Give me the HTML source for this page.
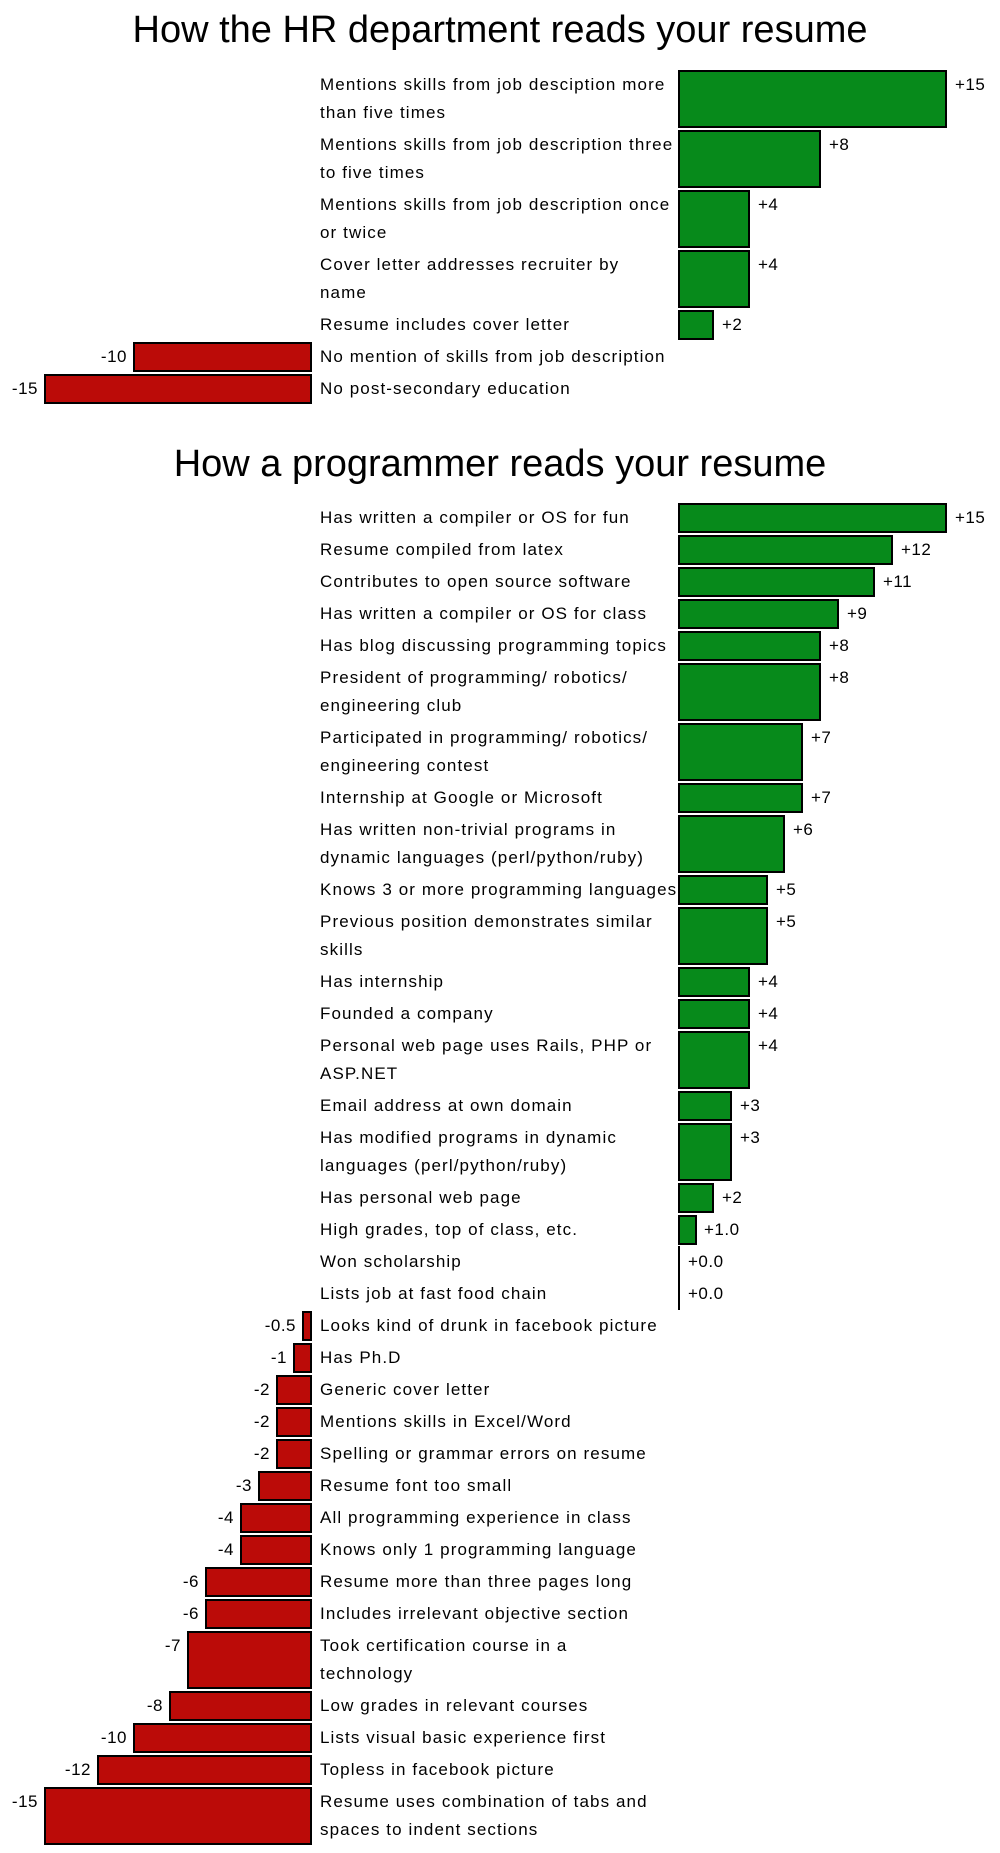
<!DOCTYPE html>
<html><head><meta charset="utf-8"><style>
body{margin:0;width:1000px;height:1853px;background:#fff;font-family:"Liberation Sans",sans-serif;color:#000;overflow:hidden;position:relative}
.t{position:absolute;left:0;width:1000px;text-align:center;font-size:38px;line-height:44px;letter-spacing:0px}
.sec{position:absolute;left:0;width:1000px}
.r{position:relative;height:32px;font-size:17px;letter-spacing:1.1px}
.d{height:60px}
.l{position:absolute;left:320px;top:2px;line-height:28px;white-space:nowrap}
.p,.n{position:absolute;top:1px;bottom:1px;border:2px solid #000;box-sizing:border-box}
.p{left:678px;background:#078a1b}
.n{right:688px;background:#bb0b08}
.v{position:absolute;top:2px;line-height:28px;white-space:nowrap;letter-spacing:0.5px}
.z{position:absolute;left:678px;top:0;bottom:0;width:2px;background:#000}
</style></head><body>
<div class="t" style="top:8px">How the HR department reads your resume</div>
<div class="sec" style="top:69px">
<div class="r d"><div class="l">Mentions skills from job desciption more<br>than five times</div><div class="p" style="width:269px"></div><div class="v" style="left:955px">+15</div></div>
<div class="r d"><div class="l">Mentions skills from job description three<br>to five times</div><div class="p" style="width:143px"></div><div class="v" style="left:829px">+8</div></div>
<div class="r d"><div class="l">Mentions skills from job description once<br>or twice</div><div class="p" style="width:72px"></div><div class="v" style="left:758px">+4</div></div>
<div class="r d"><div class="l">Cover letter addresses recruiter by<br>name</div><div class="p" style="width:72px"></div><div class="v" style="left:758px">+4</div></div>
<div class="r"><div class="l">Resume includes cover letter</div><div class="p" style="width:36px"></div><div class="v" style="left:722px">+2</div></div>
<div class="r"><div class="l">No mention of skills from job description</div><div class="n" style="width:179px"></div><div class="v" style="right:873px">-10</div></div>
<div class="r"><div class="l">No post-secondary education</div><div class="n" style="width:268px"></div><div class="v" style="right:962px">-15</div></div>
</div>
<div class="t" style="top:442px">How a programmer reads your resume</div>
<div class="sec" style="top:502px">
<div class="r"><div class="l">Has written a compiler or OS for fun</div><div class="p" style="width:269px"></div><div class="v" style="left:955px">+15</div></div>
<div class="r"><div class="l">Resume compiled from latex</div><div class="p" style="width:215px"></div><div class="v" style="left:901px">+12</div></div>
<div class="r"><div class="l">Contributes to open source software</div><div class="p" style="width:197px"></div><div class="v" style="left:883px">+11</div></div>
<div class="r"><div class="l">Has written a compiler or OS for class</div><div class="p" style="width:161px"></div><div class="v" style="left:847px">+9</div></div>
<div class="r"><div class="l">Has blog discussing programming topics</div><div class="p" style="width:143px"></div><div class="v" style="left:829px">+8</div></div>
<div class="r d"><div class="l">President of programming/ robotics/<br>engineering club</div><div class="p" style="width:143px"></div><div class="v" style="left:829px">+8</div></div>
<div class="r d"><div class="l">Participated in programming/ robotics/<br>engineering contest</div><div class="p" style="width:125px"></div><div class="v" style="left:811px">+7</div></div>
<div class="r"><div class="l">Internship at Google or Microsoft</div><div class="p" style="width:125px"></div><div class="v" style="left:811px">+7</div></div>
<div class="r d"><div class="l">Has written non-trivial programs in<br>dynamic languages (perl/python/ruby)</div><div class="p" style="width:107px"></div><div class="v" style="left:793px">+6</div></div>
<div class="r"><div class="l">Knows 3 or more programming languages</div><div class="p" style="width:90px"></div><div class="v" style="left:776px">+5</div></div>
<div class="r d"><div class="l">Previous position demonstrates similar<br>skills</div><div class="p" style="width:90px"></div><div class="v" style="left:776px">+5</div></div>
<div class="r"><div class="l">Has internship</div><div class="p" style="width:72px"></div><div class="v" style="left:758px">+4</div></div>
<div class="r"><div class="l">Founded a company</div><div class="p" style="width:72px"></div><div class="v" style="left:758px">+4</div></div>
<div class="r d"><div class="l">Personal web page uses Rails, PHP or<br>ASP.NET</div><div class="p" style="width:72px"></div><div class="v" style="left:758px">+4</div></div>
<div class="r"><div class="l">Email address at own domain</div><div class="p" style="width:54px"></div><div class="v" style="left:740px">+3</div></div>
<div class="r d"><div class="l">Has modified programs in dynamic<br>languages (perl/python/ruby)</div><div class="p" style="width:54px"></div><div class="v" style="left:740px">+3</div></div>
<div class="r"><div class="l">Has personal web page</div><div class="p" style="width:36px"></div><div class="v" style="left:722px">+2</div></div>
<div class="r"><div class="l">High grades, top of class, etc.</div><div class="p" style="width:19px"></div><div class="v" style="left:704px">+1.0</div></div>
<div class="r"><div class="l">Won scholarship</div><div class="z"></div><div class="v" style="left:688px">+0.0</div></div>
<div class="r"><div class="l">Lists job at fast food chain</div><div class="z"></div><div class="v" style="left:688px">+0.0</div></div>
<div class="r"><div class="l">Looks kind of drunk in facebook picture</div><div class="n" style="width:10px"></div><div class="v" style="right:704px">-0.5</div></div>
<div class="r"><div class="l">Has Ph.D</div><div class="n" style="width:19px"></div><div class="v" style="right:713px">-1</div></div>
<div class="r"><div class="l">Generic cover letter</div><div class="n" style="width:36px"></div><div class="v" style="right:730px">-2</div></div>
<div class="r"><div class="l">Mentions skills in Excel/Word</div><div class="n" style="width:36px"></div><div class="v" style="right:730px">-2</div></div>
<div class="r"><div class="l">Spelling or grammar errors on resume</div><div class="n" style="width:36px"></div><div class="v" style="right:730px">-2</div></div>
<div class="r"><div class="l">Resume font too small</div><div class="n" style="width:54px"></div><div class="v" style="right:748px">-3</div></div>
<div class="r"><div class="l">All programming experience in class</div><div class="n" style="width:72px"></div><div class="v" style="right:766px">-4</div></div>
<div class="r"><div class="l">Knows only 1 programming language</div><div class="n" style="width:72px"></div><div class="v" style="right:766px">-4</div></div>
<div class="r"><div class="l">Resume more than three pages long</div><div class="n" style="width:107px"></div><div class="v" style="right:801px">-6</div></div>
<div class="r"><div class="l">Includes irrelevant objective section</div><div class="n" style="width:107px"></div><div class="v" style="right:801px">-6</div></div>
<div class="r d"><div class="l">Took certification course in a<br>technology</div><div class="n" style="width:125px"></div><div class="v" style="right:819px">-7</div></div>
<div class="r"><div class="l">Low grades in relevant courses</div><div class="n" style="width:143px"></div><div class="v" style="right:837px">-8</div></div>
<div class="r"><div class="l">Lists visual basic experience first</div><div class="n" style="width:179px"></div><div class="v" style="right:873px">-10</div></div>
<div class="r"><div class="l">Topless in facebook picture</div><div class="n" style="width:215px"></div><div class="v" style="right:909px">-12</div></div>
<div class="r d"><div class="l">Resume uses combination of tabs and<br>spaces to indent sections</div><div class="n" style="width:268px"></div><div class="v" style="right:962px">-15</div></div>
</div>
</body></html>
